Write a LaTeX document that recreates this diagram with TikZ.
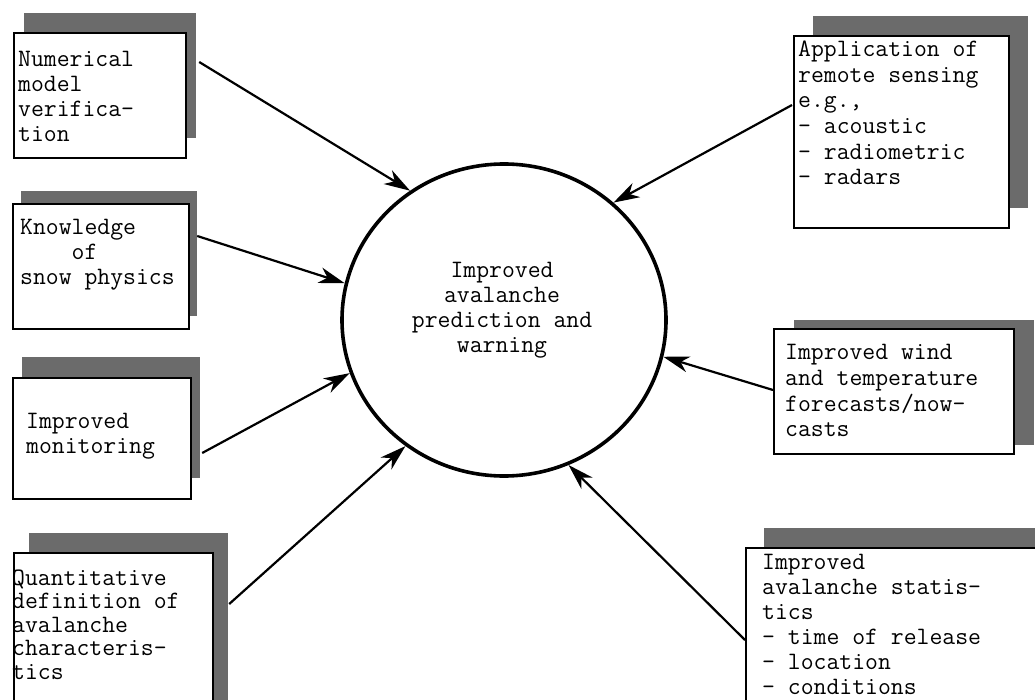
\documentclass[tikz,border=0pt]{standalone}
\usepackage{fontspec}
\usetikzlibrary{arrows.meta,shapes.geometric,shadows,calc}
\tikzset{
  tw/.style={font=\fontsize{25}{#1}\selectfont\ttfamily\addfontfeatures{LetterSpace=4,FakeBold=1.2}, inner sep=0pt, align=left, anchor=north west},
  tw/.default=25,
  box/.style 2 args={draw=black, line width=2.2pt, fill=white, inner sep=0pt, anchor=north west,
    drop shadow={shadow xshift=#1pt, shadow yshift=#2pt, fill=black!58, opacity=1}},
  conn/.style={line width=2.2pt, -{Stealth[length=26pt,width=16pt,inset=8pt]}},
  hub/.style={ellipse, draw=black, line width=3.6pt, minimum width=324pt, minimum height=312pt, inner sep=0pt}
}
\begin{document}
\begin{tikzpicture}[x=1pt,y=-1pt]
\fill[white] (0,0) rectangle (1035,700);
\useasboundingbox (0,0) rectangle (1035,700);

% boxes
\node[box={10}{20}, minimum width=172pt, minimum height=125pt] (b1) at (13,32) {};
\node[box={8}{13}, minimum width=176pt, minimum height=125pt] (b2) at (12,203) {};
\node[box={9}{21}, minimum width=178pt, minimum height=121pt] (b3) at (12,377) {};
\node[box={15}{20}, minimum width=199pt, minimum height=170pt] (b4) at (13,552) {};
\node[box={19}{20}, minimum width=215pt, minimum height=192pt] (b5) at (793,35) {};
\node[box={20}{9}, minimum width=240pt, minimum height=125pt] (b6) at (773,328) {};
\node[box={18}{20}, minimum width=310pt, minimum height=170pt] (b7) at (745,547) {};

% texts
\node[tw] (t1) at (18,48.5) {\strut Numerical\\model\\verifica-\\tion};
\node[tw] (t2) at (20,216.5) {\strut Knowledge\\\hphantom{Know}of\\snow physics};
\node[tw] (t3) at (26,410.5) {\strut Improved\\monitoring};
\node[tw=23.5] (t4) at (12,568.5) {\strut Quantitative\\definition of\\avalanche\\characteris-\\tics};
\node[tw=25.6] (t5) at (798,38.5) {\strut Application of\\remote sensing\\e.g.,\\– acoustic\\– radiometric\\– radars};
\node[tw=25.7] (t6) at (785,341.5) {\strut Improved wind\\and temperature\\forecasts/now-\\casts};
\node[tw] (t7) at (762,551.5) {\strut Improved\\avalanche statis-\\tics\\– time of release\\– location\\– conditions};

% hub
\node[hub] (c) at (504,320) {};
\node[tw, anchor=center, align=center] (ct) at (502,310) {Improved\\avalanche\\prediction and\\warning};

% connectors
\draw[conn] ($(b1.north east)+(12,30)$) -- (c.126);
\draw[conn] ($(b2.north east)+(7,33)$) -- (c.167);
\draw[conn] ($(b3.north east)+(10,76)$) -- (c.199);
\draw[conn] ($(b4.north east)+(15,52)$) -- (c.232);
\draw[conn] ($(b7.north west)+(0,93)$) -- (c.294);
\draw[conn] ($(b6.north west)+(0,62)$) -- (c.347);
\draw[conn] ($(b5.north west)+(-1,70)$) -- (c.47);
\end{tikzpicture}
\end{document}
